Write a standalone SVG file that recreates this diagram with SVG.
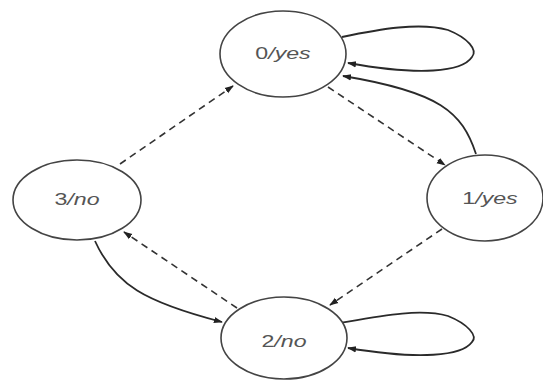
<svg xmlns="http://www.w3.org/2000/svg" width="543" height="381" viewBox="0 0 543 381">
  <style>
    .state { fill: #ffffff; stroke: #444444; stroke-width: 1.6; }
    .label { font-family: "Liberation Sans", Arial, sans-serif; font-size: 16px; fill: #555555; text-anchor: middle; }
    .out { font-style: italic; }
    .edge { fill: none; stroke: #2a2a2a; stroke-width: 1.8; }
    .dashed { stroke-dasharray: 7 5; stroke-width: 1.6; stroke: #333333; }
  </style>
  <defs>
    <marker id="arrow" viewBox="0 0 10 10" refX="9" refY="5" markerWidth="9" markerHeight="9" markerUnits="userSpaceOnUse" orient="auto">
      <path d="M0,1.5 L10,5 L0,8.5 z" fill="#222222"/>
    </marker>
  </defs>

  <rect width="543" height="381" fill="#ffffff"/>

  <g id="connectors">
    <!-- self loop on state 0 -->
    <path class="edge" marker-end="url(#arrow)" d="M342,37 C380,29 420,22 448,30 C468,38 478,50 472,57 C462,72 420,76 348,63"/>
    <!-- 1 to 0 -->
    <path class="edge" marker-end="url(#arrow)" d="M476,154 C462,112 440,92 343,76"/>
    <!-- 0 to 1 -->
    <path class="edge dashed" marker-end="url(#arrow)" d="M328,87 L445,165"/>
    <!-- 3 to 0 -->
    <path class="edge dashed" marker-end="url(#arrow)" d="M120,164 L233,86"/>
    <!-- 1 to 2 -->
    <path class="edge dashed" marker-end="url(#arrow)" d="M442,229 L330,305"/>
    <!-- 2 to 3 -->
    <path class="edge dashed" marker-end="url(#arrow)" d="M237,308 L124,232"/>
    <!-- 3 to 2 -->
    <path class="edge" marker-end="url(#arrow)" d="M95,241 C115,285 145,302 222,322"/>
    <!-- self loop on state 2 -->
    <path class="edge" marker-end="url(#arrow)" d="M340,323 C380,316 420,308 448,316 C468,324 478,336 472,342 C462,356 420,360 348,348"/>
  </g>

  <g id="state-0">
    <ellipse class="state" cx="283" cy="54" rx="63" ry="43"/>
    <text class="label" transform="translate(283,59) scale(1.45,1)">0<tspan class="out">/yes</tspan></text>
  </g>
  <g id="state-1">
    <ellipse class="state" cx="485" cy="198" rx="58" ry="43"/>
    <text class="label" transform="translate(490,204) scale(1.45,1)">1<tspan class="out">/yes</tspan></text>
  </g>
  <g id="state-2">
    <ellipse class="state" cx="284" cy="338" rx="63" ry="41"/>
    <text class="label" transform="translate(284,347) scale(1.45,1)">2<tspan class="out">/no</tspan></text>
  </g>
  <g id="state-3">
    <ellipse class="state" cx="77" cy="200" rx="64" ry="40"/>
    <text class="label" transform="translate(77,205) scale(1.45,1)">3<tspan class="out">/no</tspan></text>
  </g>
</svg>
